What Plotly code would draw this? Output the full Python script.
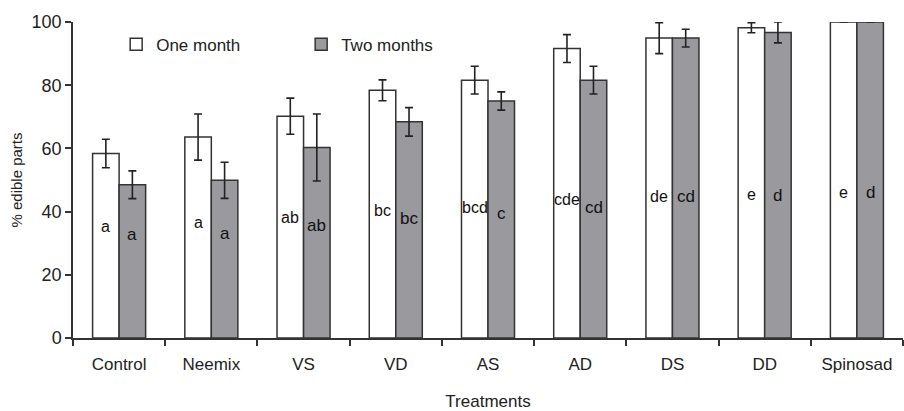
import plotly.graph_objects as go

treatments = ["Control", "Neemix", "VS", "VD", "AS", "AD", "DS", "DD", "Spinosad"]
one_month = [58.4, 63.6, 70.2, 78.4, 81.6, 91.6, 94.9, 98.2, 100.0]
one_month_err = [4.5, 7.3, 5.7, 3.3, 4.4, 4.4, 4.9, 1.6, 0.0]
two_months = [48.5, 49.9, 60.3, 68.4, 75.0, 81.6, 94.9, 96.7, 100.0]
two_months_err = [4.4, 5.7, 10.6, 4.5, 2.9, 4.4, 2.8, 3.3, 0.0]
one_letters = ["a", "a", "ab", "bc", "bcd", "cde", "de", "e", "e"]
two_letters = ["a", "a", "ab", "bc", "c", "cd", "cd", "d", "d"]

FONT = "Liberation Sans, Arial, sans-serif"
EDGE = "#333333"
GRAY = "#9a999e"

fig = go.Figure()
fig.add_trace(go.Bar(
    x=treatments, y=one_month, name="One month",
    marker=dict(color="white", line=dict(color=EDGE, width=1.5)),
    error_y=dict(type="data", array=one_month_err, color="#222222", thickness=1.6, width=4),
))
fig.add_trace(go.Bar(
    x=treatments, y=two_months, name="Two months",
    marker=dict(color=GRAY, line=dict(color=EDGE, width=1.5)),
    error_y=dict(type="data", array=two_months_err, color="#222222", thickness=1.6, width=4),
))

annotations = []
for t, v, lab in zip(treatments, one_month, one_letters):
    annotations.append(dict(x=t, y=20 + 0.26 * v, text=lab, xshift=-13.3, showarrow=False,
                            font=dict(size=16, color="#111111", family=FONT)))
for t, v, lab in zip(treatments, two_months, two_letters):
    annotations.append(dict(x=t, y=20 + 0.26 * v, text=lab, xshift=13.3, showarrow=False,
                            font=dict(size=17, color="#111111", family=FONT)))

fig.update_layout(
    width=904, height=411,
    margin=dict(l=73, r=1, t=22, b=73, autoexpand=False),
    paper_bgcolor="white", plot_bgcolor="white",
    barmode="group", bargap=0.425, bargroupgap=0,
    font=dict(family=FONT, size=17, color="#222222"),
    showlegend=True,
    legend=dict(orientation="h", x=0.052, y=0.985, xanchor="left", yanchor="top",
                entrywidth=140, entrywidthmode="pixels",
                font=dict(size=17, family=FONT, color="#222222"),
                bgcolor="rgba(0,0,0,0)", traceorder="normal"),
    annotations=annotations,
    xaxis=dict(
        automargin=False,
        showline=True, linecolor=EDGE, linewidth=1.5,
        ticks="outside", tickson="boundaries", ticklen=6, tickcolor=EDGE, tickwidth=1.5,
        tickfont=dict(size=17), showgrid=False, ticklabelstandoff=10,
        title=dict(text="Treatments", font=dict(size=17), standoff=24),
    ),
    yaxis=dict(
        automargin=False,
        range=[0, 100], tickvals=[0, 20, 40, 60, 80, 100],
        showline=True, linecolor=EDGE, linewidth=1.5,
        ticks="outside", ticklen=6, tickcolor=EDGE, tickwidth=1.5,
        tickfont=dict(size=18), showgrid=False, zeroline=False,
        title=dict(text="% edible parts", font=dict(size=15), standoff=5),
    ),
)
fig.update_traces(cliponaxis=False)

fig.write_html("out.html",
               config={"displayModeBar": False},
               post_script="document.body.style.margin='0';document.body.style.overflow='hidden';")
